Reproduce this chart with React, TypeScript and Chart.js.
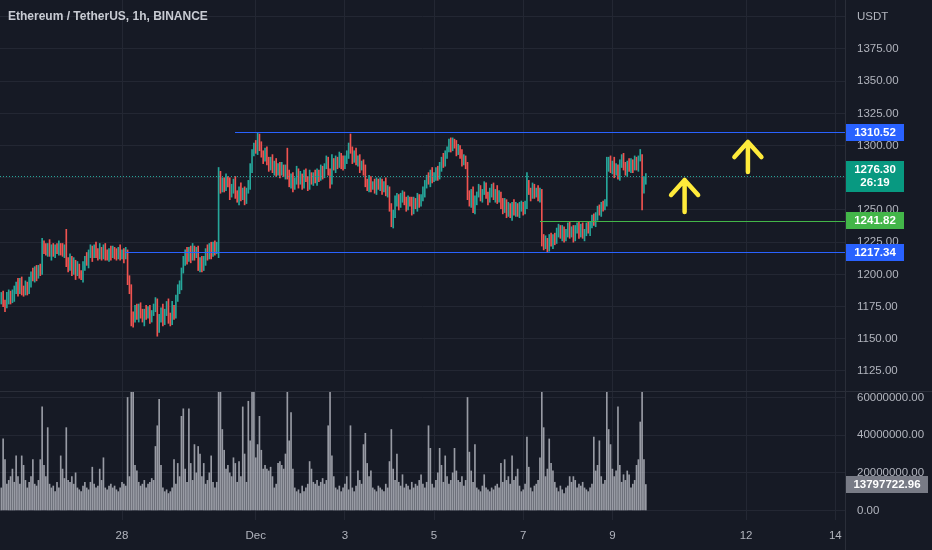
import React, { useEffect, useRef } from "react";
import { Chart, registerables } from "chart.js";

Chart.register(...registerables);

// time axis: days counted from Nov 28 00:00; first bar Nov 25 07:00, hourly bars
const START_DAY = -2.7083;
const HOURS_PER_DAY = 24;
const FIRST_OPEN = 1181;

const closes = [
  1183, 1178, 1176, 1181, 1185, 1180, 1184, 1188, 1192, 1187, 1194, 1189,
  1186, 1191, 1188, 1195, 1200, 1197, 1203, 1199, 1205, 1202, 1223, 1220,
  1218, 1222, 1216, 1220, 1217, 1221, 1218, 1222, 1219, 1216, 1220, 1210,
  1205, 1212, 1203, 1208, 1201, 1206, 1200, 1198, 1206, 1212, 1209, 1216,
  1219, 1215, 1221, 1217, 1214, 1219, 1215, 1220, 1216, 1213, 1218, 1215,
  1219, 1216, 1214, 1218, 1215, 1217, 1214, 1217, 1196, 1188, 1168, 1166,
  1172, 1167, 1175, 1169, 1165, 1171, 1168, 1172, 1166, 1170, 1174, 1178,
  1158, 1165, 1172, 1164, 1170, 1177, 1167, 1163, 1174, 1169, 1181, 1188,
  1192, 1203, 1210, 1216, 1212, 1219, 1214, 1220, 1215, 1218, 1206, 1210,
  1205, 1211, 1218, 1214, 1221, 1217, 1223, 1219, 1221, 1276, 1266, 1272,
  1268, 1274, 1270, 1263, 1267, 1272, 1262, 1258, 1266, 1260, 1264, 1258,
  1265, 1270, 1282, 1294, 1300, 1297, 1306, 1298, 1294, 1290, 1295, 1288,
  1284, 1289, 1281, 1285, 1279, 1284, 1280, 1283, 1278, 1282, 1277, 1270,
  1275, 1268, 1273, 1279, 1272, 1276, 1270, 1278, 1274, 1269, 1276, 1272,
  1277, 1273, 1279, 1275, 1281, 1278, 1284, 1288, 1280, 1274, 1287, 1283,
  1289, 1285, 1291, 1287, 1284, 1290, 1293, 1298, 1296, 1290, 1294, 1287,
  1289, 1283, 1286, 1280, 1272, 1267, 1273, 1268, 1270, 1266, 1272, 1268,
  1271, 1266, 1270, 1264, 1266, 1252, 1240, 1246, 1256, 1260, 1254, 1259,
  1262, 1256, 1253, 1258, 1255, 1250, 1257, 1253, 1259, 1255, 1260, 1264,
  1270, 1275, 1272, 1278, 1274, 1277, 1280, 1276, 1284, 1289, 1286, 1293,
  1297, 1302, 1299, 1303, 1300, 1296, 1298, 1292, 1288, 1290, 1284, 1262,
  1256, 1264, 1250, 1258, 1262, 1266, 1260, 1264, 1268, 1262, 1258, 1263,
  1267, 1260, 1264, 1258, 1262, 1255, 1250, 1256, 1248, 1252, 1246, 1254,
  1249, 1253, 1247, 1251, 1254, 1250, 1253, 1270, 1265, 1261, 1267, 1262,
  1265, 1260, 1264, 1228, 1222, 1226, 1221, 1228, 1224, 1229, 1226, 1232,
  1236, 1230, 1234, 1228, 1233, 1237, 1231, 1235, 1229, 1234, 1238, 1232,
  1236, 1230, 1233, 1237, 1234, 1239, 1243, 1240, 1246, 1250, 1248, 1254,
  1252, 1256, 1284, 1288, 1281, 1286, 1279, 1283, 1277, 1285, 1290, 1284,
  1280, 1286, 1282, 1287, 1283, 1288, 1284, 1290, 1290, 1266, 1272, 1276.3,
];

// wick length above max(open, close) and below min(open, close), in USDT
const upperWicks = [
  3, 4, 2, 5, 3, 2, 4, 3, 2, 5, 3, 4,
  2, 4, 3, 3, 2, 5, 3, 4, 2, 3, 5, 3,
  4, 2, 5, 3, 4, 2, 3, 4, 2, 5, 3, 15,
  3, 4, 2, 5, 3, 4, 2, 3, 4, 2, 5, 3,
  4, 3, 2, 4, 3, 5, 2, 3, 4, 3, 2, 4,
  3, 2, 4, 3, 5, 2, 3, 4, 2, 3, 4, 3,
  4, 5, 2, 3, 4, 2, 5, 3, 4, 2, 3, 4,
  3, 4, 2, 5, 3, 2, 4, 3, 5, 2, 3, 4,
  3, 2, 4, 3, 5, 2, 3, 4, 2, 3, 4, 3,
  4, 3, 2, 5, 3, 4, 2, 3, 4, 7, 4, 3,
  3, 4, 2, 5, 3, 2, 4, 3, 2, 5, 3, 4,
  2, 3, 4, 3, 2, 4, 4, 3, 5, 2, 3, 4,
  3, 2, 4, 3, 5, 2, 3, 4, 2, 3, 16, 4,
  3, 4, 2, 5, 3, 4, 2, 3, 4, 2, 5, 3,
  2, 4, 3, 2, 4, 3, 2, 4, 3, 2, 6, 3,
  3, 2, 4, 3, 5, 2, 3, 4, 11, 3, 2, 4,
  3, 4, 2, 3, 5, 2, 4, 3, 2, 4, 3, 2,
  4, 3, 2, 5, 3, 2, 3, 4, 5, 3, 2, 4,
  3, 2, 4, 3, 2, 5, 3, 2, 4, 3, 2, 4,
  3, 2, 4, 3, 5, 2, 3, 4, 3, 2, 5, 3,
  2, 3, 4, 3, 2, 4, 3, 2, 5, 3, 2, 3,
  3, 2, 4, 3, 2, 4, 3, 2, 4, 3, 2, 4,
  3, 4, 2, 5, 3, 2, 4, 3, 2, 4, 3, 2,
  4, 3, 2, 5, 3, 2, 4, 9, 3, 2, 4, 3,
  2, 4, 3, 2, 3, 4, 2, 3, 4, 2, 3, 4,
  3, 2, 4, 3, 2, 3, 4, 2, 3, 4, 2, 3,
  3, 4, 2, 3, 4, 2, 3, 4, 2, 3, 4, 2,
  3, 2, 7, 3, 4, 2, 5, 3, 2, 4, 3, 4,
  3, 2, 4, 3, 2, 4, 3, 2, 7, 3, 4, 2,
];

const lowerWicks = [
  4, 3, 5, 2, 4, 3, 2, 5, 3, 4, 2, 5,
  3, 2, 4, 3, 5, 2, 3, 4, 2, 3, 2, 4,
  3, 4, 2, 5, 3, 4, 2, 3, 4, 2, 3, 4,
  3, 2, 4, 3, 5, 2, 3, 2, 4, 3, 2, 4,
  3, 5, 2, 4, 3, 2, 4, 3, 5, 2, 3, 4,
  2, 4, 3, 2, 4, 3, 5, 2, 4, 3, 8, 7,
  3, 2, 4, 3, 2, 5, 3, 2, 4, 3, 2, 3,
  6, 3, 2, 4, 3, 2, 5, 3, 2, 4, 3, 2,
  3, 4, 2, 3, 4, 2, 5, 3, 4, 2, 3, 4,
  3, 2, 4, 3, 2, 5, 3, 4, 3, 8, 3, 2,
  4, 3, 2, 5, 3, 4, 3, 2, 4, 3, 2, 4,
  3, 2, 4, 3, 2, 3, 4, 2, 3, 4, 2, 3,
  4, 3, 2, 4, 3, 2, 5, 3, 2, 4, 3, 2,
  3, 4, 2, 3, 5, 2, 4, 3, 2, 4, 3, 2,
  3, 2, 4, 3, 2, 4, 3, 2, 3, 7, 4, 2,
  4, 3, 2, 5, 3, 2, 4, 3, 2, 4, 3, 2,
  3, 4, 2, 3, 4, 2, 3, 4, 2, 3, 4, 2,
  3, 4, 2, 3, 4, 3, 3, 4, 2, 3, 4, 2,
  3, 2, 4, 3, 2, 4, 3, 2, 4, 3, 2, 3,
  4, 3, 2, 4, 3, 2, 4, 3, 2, 4, 3, 2,
  3, 2, 4, 3, 2, 4, 3, 2, 4, 3, 2, 4,
  3, 4, 2, 3, 4, 2, 3, 4, 2, 3, 4, 2,
  3, 2, 4, 3, 2, 4, 3, 2, 4, 3, 2, 4,
  3, 4, 2, 3, 2, 4, 3, 2, 3, 4, 2, 3,
  2, 3, 4, 6, 3, 2, 4, 3, 2, 4, 3, 2,
  3, 2, 4, 3, 2, 4, 3, 2, 4, 3, 2, 4,
  3, 2, 4, 3, 2, 4, 3, 2, 3, 4, 2, 3,
  3, 2, 3, 4, 2, 3, 4, 2, 3, 4, 2, 3,
  3, 4, 2, 3, 4, 2, 3, 4, 2, 16, 3, 2,
];

// hourly volume in millions
const volumesM = [
  12, 38, 27, 14, 16, 18, 22, 15, 29, 18, 14, 29,
  24, 16, 12, 15, 18, 27, 14, 13, 16, 27, 55, 24,
  18, 44, 14, 12, 13, 10, 15, 12, 29, 22, 17, 44,
  16, 15, 18, 14, 20, 12, 11, 10, 13, 15, 12, 11,
  15, 23, 14, 12, 13, 22, 16, 28, 12, 11, 13, 14,
  12, 13, 11, 10, 12, 15, 14, 13, 60, 18, 63, 63,
  24, 21, 15, 13, 14, 16, 12, 14, 15, 17, 16, 34,
  45, 59, 24, 12, 10, 11, 9, 10, 12, 27, 14, 25,
  18, 50, 54, 22, 15, 54, 25, 16, 35, 20, 34, 30,
  18, 25, 14, 16, 20, 29, 15, 12, 15, 63, 63, 43,
  32, 22, 24, 20, 18, 28, 25, 15, 26, 18, 55, 30,
  15, 58, 37, 63, 63, 28, 35, 50, 32, 22, 24, 22,
  21, 23, 18, 12, 14, 25, 26, 24, 22, 30, 63, 37,
  52, 22, 12, 10, 11, 9, 13, 10, 12, 14, 26, 22,
  15, 14, 16, 13, 15, 17, 14, 16, 45, 63, 29, 18,
  12, 11, 13, 10, 12, 14, 18, 11, 45, 12, 10, 13,
  21, 16, 14, 35, 41, 25, 18, 21, 12, 11, 10, 13,
  12, 11, 10, 14, 12, 26, 43, 22, 16, 30, 15, 13,
  19, 12, 14, 13, 11, 15, 12, 14, 13, 16, 19, 14,
  12, 15, 45, 33, 14, 12, 16, 20, 33, 24, 15, 29,
  18, 14, 16, 20, 33, 21, 16, 15, 18, 13, 16, 60,
  31, 21, 15, 35, 12, 11, 10, 13, 19, 12, 11, 10,
  12, 11, 13, 14, 12, 25, 15, 27, 16, 18, 14, 29,
  16, 18, 22, 13, 10, 11, 14, 39, 23, 12, 10, 13,
  14, 16, 28, 63, 44, 18, 22, 38, 25, 21, 15, 12,
  10, 13, 11, 9, 12, 13, 18, 15, 18, 16, 12, 14,
  13, 15, 12, 11, 10, 12, 14, 39, 21, 24, 37, 18,
  14, 16, 63, 43, 35, 22, 18, 21, 55, 24, 15, 19,
  16, 21, 19, 12, 14, 16, 24, 27, 47, 63, 27, 13.79772296,
];

const timeTicks = [0, 3, 5, 7, 9, 11, 14, 16];
const timeTickLabels = ["28", "Dec", "3", "5", "7", "9", "12", "14"];
const priceTicks = [1125, 1150, 1175, 1200, 1225, 1250, 1275, 1300, 1325, 1350, 1375, 1400];
const volumeTicks = [0, 20000000, 40000000, 60000000];

const levels = [
  { price: 1310.52, fromDay: 2.535, color: "#2962ff" },
  { price: 1241.82, fromDay: 9.376, color: "#43b649" },
  { price: 1217.34, fromDay: 0.067, color: "#2962ff" },
];
const arrows = [
  { day: 12.62, tip: 1273.3, tail: 1248.5 },
  { day: 14.04, tip: 1302.8, tail: 1279.5 },
];

const TITLE = "Ethereum / TetherUS, 1h, BINANCE";
const QUOTE = "USDT";
const COUNTDOWN = "26:19";

const BG = "#161a25";
const GRID = "#232733";
const TEXT = "#b2b5be";
const UP = "#26a69a";
const DOWN = "#ef5350";
const FONT = '"Liberation Sans", Arial, sans-serif';

const opens = closes.map((c, i) => (i === 0 ? FIRST_OPEN : closes[i - 1]));
const dayOf = (i: number) => START_DAY + i / HOURS_PER_DAY;

function labelBox(
  ctx: CanvasRenderingContext2D,
  x: number,
  yc: number,
  w: number,
  h: number,
  bg: string,
  lines: string[]
) {
  ctx.fillStyle = bg;
  ctx.fillRect(x, Math.round(yc - h / 2), w, h);
  ctx.fillStyle = "#ffffff";
  ctx.font = `bold 11.5px ${FONT}`;
  ctx.textAlign = "center";
  ctx.textBaseline = "middle";
  const lh = 13;
  const y0 = yc - ((lines.length - 1) * lh) / 2;
  lines.forEach((t, k) => ctx.fillText(t, x + w / 2, y0 + k * lh + 0.5));
}

const zeroPad = (s: any) => {
  s.paddingTop = 0;
  s.paddingBottom = 0;
  s.paddingLeft = 0;
  s.paddingRight = 0;
};

const overlayPlugin = {
  id: "overlay",
  afterDatasetsDraw(chart: any) {
    const ctx: CanvasRenderingContext2D = chart.ctx;
    const area = chart.chartArea;
    const xs = chart.scales.x;
    const ys = chart.scales.y;
    ctx.save();
    ctx.strokeStyle = "#2a2e39";
    ctx.lineWidth = 1;
    ctx.beginPath();
    ctx.moveTo(0, Math.round(ys.bottom) + 0.5);
    ctx.lineTo(chart.width, Math.round(ys.bottom) + 0.5);
    ctx.stroke();
    ctx.beginPath();
    ctx.moveTo(Math.round(area.right) + 0.5, 0);
    ctx.lineTo(Math.round(area.right) + 0.5, chart.height);
    ctx.stroke();

    const last = closes[closes.length - 1];
    const ly = Math.round(ys.getPixelForValue(last)) + 0.5;
    ctx.setLineDash([1, 2]);
    ctx.strokeStyle = UP;
    ctx.beginPath();
    ctx.moveTo(area.left, ly);
    ctx.lineTo(area.right, ly);
    ctx.stroke();
    ctx.setLineDash([]);

    levels.forEach((l) => {
      const y = Math.round(ys.getPixelForValue(l.price)) + 0.5;
      ctx.strokeStyle = l.color;
      ctx.lineWidth = 1.2;
      ctx.beginPath();
      ctx.moveTo(xs.getPixelForValue(l.fromDay), y);
      ctx.lineTo(area.right, y);
      ctx.stroke();
    });

    ctx.strokeStyle = "#ffeb3b";
    ctx.lineWidth = 4.5;
    ctx.lineCap = "round";
    ctx.lineJoin = "round";
    arrows.forEach((a) => {
      const x = xs.getPixelForValue(a.day);
      const yt = ys.getPixelForValue(a.tip);
      const yb = ys.getPixelForValue(a.tail);
      ctx.beginPath();
      ctx.moveTo(x, yb);
      ctx.lineTo(x, yt);
      ctx.moveTo(x - 13.5, yt + 15);
      ctx.lineTo(x, yt);
      ctx.lineTo(x + 13.5, yt + 15);
      ctx.stroke();
    });
    ctx.restore();
  },
  afterDraw(chart: any) {
    const ctx: CanvasRenderingContext2D = chart.ctx;
    const area = chart.chartArea;
    const ys = chart.scales.y;
    const yv = chart.scales.yv;
    ctx.save();
    const bx = Math.round(area.right) + 1;
    levels.forEach((l) => {
      labelBox(ctx, bx, ys.getPixelForValue(l.price), 58, 17, l.color, [l.price.toFixed(2)]);
    });
    const last = closes[closes.length - 1];
    labelBox(ctx, bx, ys.getPixelForValue(last), 58, 31, "#089981", [last.toFixed(2), COUNTDOWN]);
    const lastVol = volumesM[volumesM.length - 1] * 1e6;
    labelBox(ctx, bx, yv.getPixelForValue(lastVol), 82, 17, "#787b86", [lastVol.toFixed(2)]);

    ctx.fillStyle = "#c8cbd3";
    ctx.font = `bold 12px ${FONT}`;
    ctx.textAlign = "left";
    ctx.textBaseline = "middle";
    ctx.fillText(TITLE, 8, 17);
    ctx.restore();
  },
};

export default function App() {
  const ref = useRef<HTMLCanvasElement>(null);
  useEffect(() => {
    document.body.style.margin = "0";
    document.body.style.background = BG;
    const candleData = closes.map((c, i) => {
      const o = opens[i];
      return { x: dayOf(i), y: [Math.min(o, c) - lowerWicks[i], Math.max(o, c) + upperWicks[i]] };
    });
    const candleColors = closes.map((c, i) => (c >= opens[i] ? UP : DOWN));
    const volumeData = volumesM.map((v, i) => ({ x: dayOf(i), y: v * 1e6 }));

    const tickFont = { family: FONT, size: 11.5 };
    const chart = new Chart(ref.current as HTMLCanvasElement, {
      type: "bar",
      data: {
        datasets: [
          {
            label: "ETHUSDT",
            data: candleData as any,
            backgroundColor: candleColors,
            borderWidth: 0,
            barThickness: 1,
            grouped: false,
            yAxisID: "y",
          } as any,
          {
            label: "Volume",
            data: volumeData as any,
            backgroundColor: "rgba(185,188,196,0.8)",
            borderWidth: 0,
            barThickness: 1,
            grouped: false,
            yAxisID: "yv",
          } as any,
        ],
      },
      options: {
        animation: false,
        responsive: false,
        maintainAspectRatio: false,
        events: [],
        layout: { padding: 0 },
        plugins: { legend: { display: false }, tooltip: { enabled: false } },
        scales: {
          x: {
            type: "linear",
            min: -2.737,
            max: 16.218,
            offset: false,
            grid: { color: GRID, drawTicks: false, offset: false },
            border: { display: false },
            ticks: {
              color: TEXT,
              font: tickFont,
              padding: 9,
              autoSkip: false,
              maxRotation: 0,
              callback: (v: any) => timeTickLabels[timeTicks.indexOf(Number(v))] ?? "",
            },
            afterBuildTicks: (s: any) => {
              s.ticks = timeTicks.map((v) => ({ value: v }));
            },
            afterFit: (s: any) => {
              s.height = 30;
              zeroPad(s);
            },
          },
          y: {
            type: "linear",
            position: "right",
            stack: "pane",
            stackWeight: 391,
            min: 1109.47,
            max: 1413.04,
            grid: { color: GRID, drawTicks: false },
            border: { display: false },
            ticks: {
              color: TEXT,
              font: tickFont,
              padding: 12,
              callback: (v: any) => (Number(v) === 1400 ? QUOTE : Number(v).toFixed(2)),
            },
            afterBuildTicks: (s: any) => {
              s.ticks = priceTicks.map((v) => ({ value: v }));
            },
            afterFit: (s: any) => {
              s.width = 87;
              zeroPad(s);
            },
          },
          yv: {
            type: "linear",
            position: "right",
            stack: "pane",
            stackWeight: 129,
            min: -5040000,
            max: 63450000,
            grid: { color: GRID, drawTicks: false },
            border: { display: false },
            ticks: {
              color: TEXT,
              font: tickFont,
              padding: 12,
              callback: (v: any) => Number(v).toFixed(2),
            },
            afterBuildTicks: (s: any) => {
              s.ticks = volumeTicks.map((v) => ({ value: v }));
            },
            afterFit: (s: any) => {
              s.width = 87;
              zeroPad(s);
            },
          },
        },
      } as any,
      plugins: [overlayPlugin],
    });
    return () => chart.destroy();
  }, []);

  return (
    <div style={{ width: 932, height: 550, background: BG }}>
      <canvas ref={ref} width={932} height={550} style={{ display: "block", width: 932, height: 550 }} />
    </div>
  );
}
